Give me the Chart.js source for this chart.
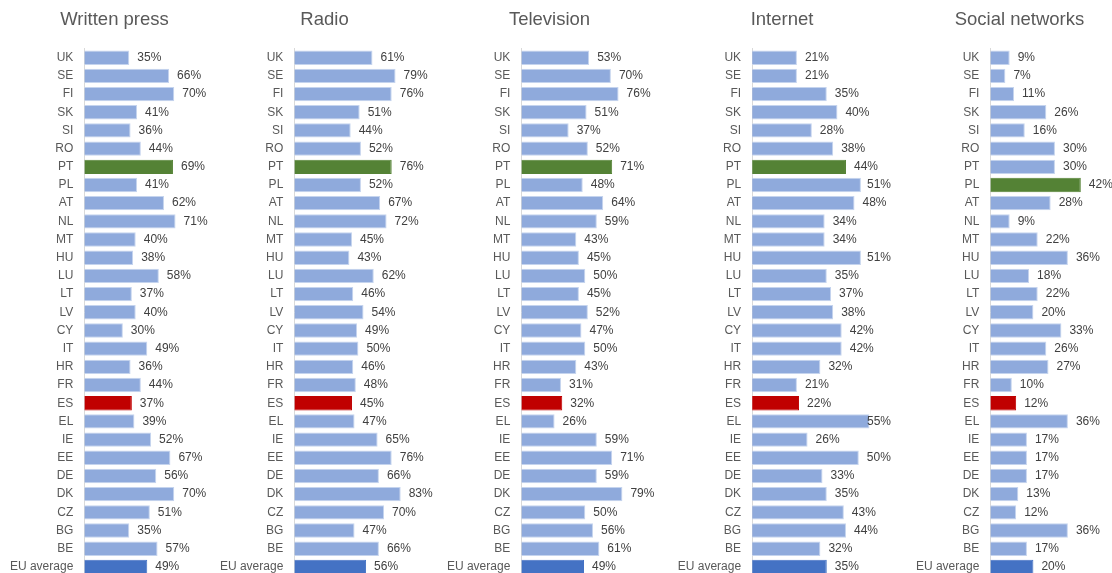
<!DOCTYPE html>
<html>
<head>
<meta charset="utf-8">
<script src="https://cdn.jsdelivr.net/npm/chart.js@4.4.0/dist/chart.umd.min.js"></script>
<style>
	body { margin: 0; width: 1112px; height: 573px; overflow: hidden; background: #fff; position: relative; }
	.panel { position: absolute; top: 0; }
</style>
</head>
<body>
<div class="panel" id="p0"><canvas id="c0"></canvas></div>
<div class="panel" id="p1"><canvas id="c1"></canvas></div>
<div class="panel" id="p2"><canvas id="c2"></canvas></div>
<div class="panel" id="p3"><canvas id="c3"></canvas></div>
<div class="panel" id="p4"><canvas id="c4"></canvas></div>
<script>
var countries = ["UK", "SE", "FI", "SK", "SI", "RO", "PT", "PL", "AT", "NL", "MT", "HU", "LU", "LT",
	"LV", "CY", "IT", "HR", "FR", "ES", "EL", "IE", "EE", "DE", "DK", "CZ", "BG", "BE", "EU average"];

var writtenPress   = [35, 66, 70, 41, 36, 44, 69, 41, 62, 71, 40, 38, 58, 37, 40, 30, 49, 36, 44, 37, 39, 52, 67, 56, 70, 51, 35, 57, 49];
var radio          = [61, 79, 76, 51, 44, 52, 76, 52, 67, 72, 45, 43, 62, 46, 54, 49, 50, 46, 48, 45, 47, 65, 76, 66, 83, 70, 47, 66, 56];
var television     = [53, 70, 76, 51, 37, 52, 71, 48, 64, 59, 43, 45, 50, 45, 52, 47, 50, 43, 31, 32, 26, 59, 71, 59, 79, 50, 56, 61, 49];
var internet       = [21, 21, 35, 40, 28, 38, 44, 51, 48, 34, 34, 51, 35, 37, 38, 42, 42, 32, 21, 22, 55, 26, 50, 33, 35, 43, 44, 32, 35];
var socialNetworks = [9, 7, 11, 26, 16, 30, 30, 42, 28, 9, 22, 36, 18, 22, 20, 33, 26, 27, 10, 12, 36, 17, 17, 17, 13, 12, 36, 17, 20];

var titles = ["Written press", "Radio", "Television", "Internet", "Social networks"];
var series = [writtenPress, radio, television, internet, socialNetworks];
var highlighted = ["PT", "PT", "PT", "PT", "PL"];

// layout of each small chart (canvas box, y axis width, x range)
var panels = [
	{ left: 0,     width: 229,   axisWidth: 84.3, max: 112.6 },
	{ left: 200,   width: 249.4, axisWidth: 94.3, max: 120.7 },
	{ left: 430,   width: 239.6, axisWidth: 91.3, max: 115.4 },
	{ left: 672.6, width: 218.4, axisWidth: 79.1, max: 65.1 },
	{ left: 900,   width: 239,   axisWidth: 90.3, max: 69 }
];

var FONT = '"Liberation Sans", Arial, sans-serif';

// value labels at the end of each bar
var barLabels = {
	id: "barLabels",
	afterDatasetsDraw: function(chart) {
		var ctx = chart.ctx;
		var meta = chart.getDatasetMeta(0);
		var values = chart.data.datasets[0].data;
		ctx.save();
		ctx.font = "12px " + FONT;
		ctx.fillStyle = "#404040";
		ctx.textBaseline = "middle";
		ctx.textAlign = "left";
		meta.data.forEach(function(bar, i) {
			var text = values[i] + "%";
			var w = ctx.measureText(text).width;
			var x = Math.min(bar.x + 8, chart.chartArea.right - w);
			ctx.fillText(text, x, bar.y);
		});
		ctx.restore();
	}
};

for (var k = 0; k < 5; k++) {
	var p = panels[k];
	var box = document.getElementById("p" + k);
	box.style.left = p.left + "px";
	var canvas = document.getElementById("c" + k);
	canvas.width = p.width;
	canvas.height = 576;

	var fills = [], borders = [];
	for (var i = 0; i < countries.length; i++) {
		var c = countries[i];
		if (c == highlighted[k]) { fills.push("#548235"); borders.push("#548235"); }
		else if (c == "ES") { fills.push("#C00000"); borders.push("#C00000"); }
		else if (c == "EU average") { fills.push("#4472C4"); borders.push("#4472C4"); }
		else { fills.push("#8FAADC"); borders.push("#C5D4EE"); }
	}

	(function(axisWidth) {
		new Chart(canvas, {
			type: "bar",
			data: {
				labels: countries,
				datasets: [{
					data: series[k],
					backgroundColor: fills,
					borderColor: borders,
					borderWidth: 1,
					barPercentage: 0.79,
					categoryPercentage: 1
				}]
			},
			options: {
				indexAxis: "y",
				responsive: false,
				animation: false,
				layout: { padding: 0 },
				plugins: {
					legend: { display: false },
					tooltip: { enabled: false },
					title: {
						display: true,
						text: titles[k],
						color: "#595959",
						font: { family: FONT, size: 18.5, weight: "normal" },
						padding: { top: 9.2, bottom: 17.2 }
					}
				},
				scales: {
					x: { display: false, min: 0, max: p.max },
					y: {
						grid: { drawOnChartArea: false, drawTicks: false },
						border: { display: true, color: "#D9D9D9", width: 1 },
						ticks: { color: "#595959", padding: 11, font: { family: FONT, size: 12 }, autoSkip: false },
						afterFit: function(scale) {
							scale.width = axisWidth;
							scale.paddingTop = 0;
							scale.paddingBottom = 0;
						}
					}
				}
			},
			plugins: [barLabels]
		});
	})(p.axisWidth);
}
</script>
</body>
</html>
